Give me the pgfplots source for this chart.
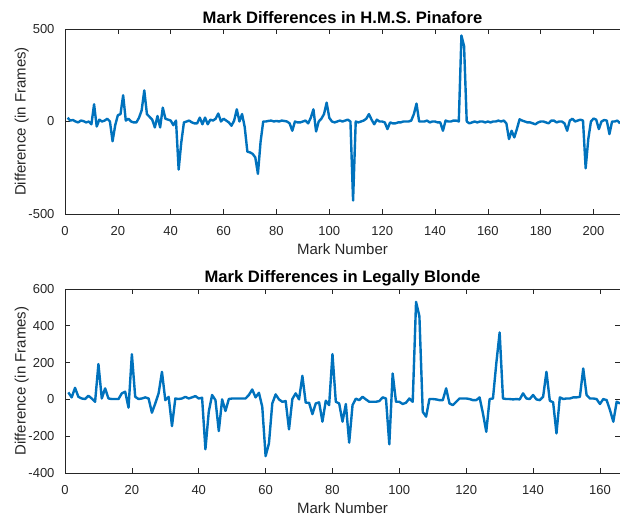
\documentclass[border=0pt]{standalone}
\usepackage{fontspec}
\setmainfont{Liberation Sans}
\usepackage{pgfplots}
\usepackage{pgfplotstable}
\pgfplotsset{compat=1.18}
\definecolor{mblue}{RGB}{0,114,189}
\definecolor{axgray}{RGB}{38,38,38}

\pgfplotstableread{
x y
1 20
2 5
3 8
4 0
5 -5
6 5
7 2
8 -5
9 0
10 -15
11 93
12 -27
13 10
14 0
15 5
16 15
17 0
18 -107
19 -20
20 34
21 40
22 142
23 5
24 15
25 0
26 -5
27 -5
28 20
29 60
30 168
31 40
32 25
33 10
34 -32
35 30
36 -32
37 75
38 15
39 10
40 5
41 -20
42 5
43 -260
44 -113
45 -5
46 0
47 5
48 -5
49 -10
50 -10
51 21
52 -15
53 21
54 -15
55 10
56 5
57 15
58 43
59 0
60 15
61 5
62 -5
63 -23
64 5
65 66
66 0
67 40
68 -30
69 -163
70 -167
71 -175
72 -194
73 -283
74 -110
75 0
76 0
77 3
78 5
79 0
80 3
81 0
82 5
83 3
84 0
85 -10
86 -50
87 0
88 -5
89 -5
90 0
91 5
92 -10
93 20
94 66
95 -54
96 0
97 15
98 40
99 102
100 20
101 0
102 -5
103 0
104 5
105 0
106 5
107 10
108 0
109 -427
110 0
111 -5
112 0
113 5
114 15
115 40
116 10
117 -15
118 10
119 0
120 0
121 -5
122 -41
123 -5
124 -10
125 -10
126 -5
127 -5
128 0
129 0
130 0
131 5
132 40
133 97
134 0
135 0
136 0
137 5
138 -5
139 0
140 0
141 -5
142 -5
143 -50
144 5
145 0
146 0
147 5
148 5
149 0
150 465
151 407
152 0
153 -10
154 -5
155 0
156 -5
157 0
158 0
159 -5
160 0
161 -5
162 0
163 0
164 5
165 0
166 5
167 -10
168 -95
169 -50
170 -86
171 -40
172 12
173 5
174 0
175 -5
176 -5
177 -10
178 -15
179 -5
180 0
181 0
182 -5
183 -10
184 5
185 5
186 -5
187 0
188 0
189 -10
190 -50
191 5
192 15
193 0
194 5
195 10
196 5
197 -253
198 -95
199 0
200 16
201 10
202 -41
203 0
204 8
205 5
206 -68
207 0
208 0
209 5
210 -10
}\pinafore

\pgfplotstableread{
x y
1 38
2 11
3 63
4 14
5 5
6 2
7 20
8 5
9 -13
10 192
11 5
12 60
13 5
14 2
15 2
16 2
17 33
18 42
19 -45
20 246
21 14
22 2
23 5
24 11
25 5
26 -72
27 -22
28 33
29 150
30 -4
31 14
32 -145
33 5
34 2
35 5
36 14
37 5
38 11
39 18
40 5
41 9
42 -271
43 -67
44 24
45 -4
46 -172
47 0
48 -63
49 2
50 5
51 5
52 5
53 5
54 5
55 24
56 54
57 11
58 36
59 -40
60 -308
61 -239
62 -22
63 27
64 0
65 -13
66 -9
67 -163
68 2
69 33
70 0
71 128
72 -18
73 -18
74 -80
75 -22
76 -16
77 -121
78 -7
79 -31
80 246
81 -13
82 -22
83 -121
84 -25
85 -235
86 -31
87 4
88 -4
89 14
90 0
91 -13
92 -13
93 -13
94 -9
95 11
96 5
97 -244
98 141
99 -13
100 -13
101 -25
102 -18
103 5
104 -13
105 530
106 452
107 -67
108 -94
109 2
110 2
111 0
112 -4
113 -4
114 60
115 -22
116 -31
117 -13
118 5
119 5
120 5
121 2
122 -4
123 -4
124 11
125 -76
126 -176
127 2
128 5
129 196
130 364
131 5
132 2
133 2
134 0
135 2
136 0
137 33
138 5
139 2
140 24
141 0
142 -4
143 14
144 150
145 -7
146 -16
147 -185
148 11
149 2
150 5
151 5
152 11
153 11
154 14
155 168
156 24
157 5
158 5
159 2
160 -25
161 2
162 -4
163 -58
164 -121
165 -13
166 -22
}\blonde

\pgfplotsset{
  every axis/.append style={
    scale only axis,
    width=555pt,
    axis line style={axgray, line width=0.7pt},
    every tick/.style={axgray, line width=0.7pt},
    major tick length=5pt,
    tick align=inside,
    xtick pos=both, ytick pos=both,
    tick label style={font=\fontsize{13}{13}\selectfont, text=axgray},
    /pgf/number format/assume math mode=true,
    every x tick label/.append style={anchor=base, yshift=-21pt},
    every y tick label/.append style={anchor=east, xshift=-7pt},
    every axis y label/.style={at={(axis description cs:-0.078,0.5)}, rotate=90, anchor=center, font=\fontsize{15}{15}\selectfont, text=axgray},
    every axis x label/.style={at={(axis description cs:0.5,0)}, anchor=base, yshift=-40pt, font=\fontsize{15}{15}\selectfont, text=axgray},
    every axis title/.style={font=\bfseries\fontsize{16.6}{16.6}\selectfont, at={(axis description cs:0.5,1)}, anchor=base, yshift=6pt},
    xlabel={Mark Number},
    ylabel={Difference (in Frames)},
  }
}

\begin{document}
\begin{tikzpicture}
\path[use as bounding box] (0pt,0pt) rectangle (620pt,515pt);
\begin{axis}[
  at={(65pt,301pt)}, anchor=south west,
  height=185pt,
  xmin=0, xmax=210, ymin=-500, ymax=500,
  xtick={0,20,...,200}, ytick={-500,0,500},
  title={Mark Differences in H.M.S. Pinafore},
]
\addplot[mblue, line width=2.4pt, line join=round] table[x=x,y=y] {\pinafore};
\end{axis}
\begin{axis}[
  at={(65pt,42pt)}, anchor=south west,
  height=184pt,
  xmin=0, xmax=166, ymin=-400, ymax=600,
  xtick={0,20,...,160}, ytick={-400,-200,...,600},
  title={Mark Differences in Legally Blonde},
]
\addplot[mblue, line width=2.4pt, line join=round] table[x=x,y=y] {\blonde};
\end{axis}
\end{tikzpicture}
\end{document}
